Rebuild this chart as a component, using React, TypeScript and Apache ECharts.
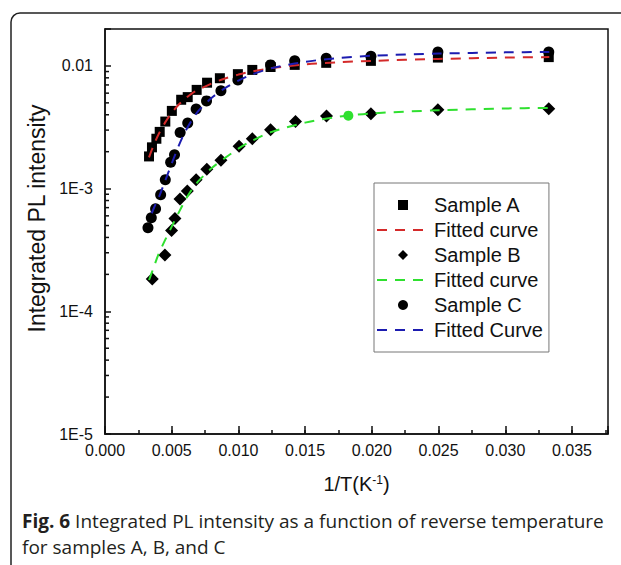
import React, { useEffect, useRef } from 'react';
import * as echarts from 'echarts';

// ---- data ----
const xA = [0.0033, 0.00352, 0.00385, 0.0041, 0.00452, 0.00501, 0.00571, 0.0062, 0.00687, 0.00765, 0.00861, 0.00996, 0.01104, 0.01241, 0.01422, 0.01658, 0.01993, 0.02495, 0.03326];
const yA = [1.83e-3, 2.17e-3, 2.55e-3, 2.9e-3, 3.52e-3, 4.3e-3, 5.3e-3, 5.57e-3, 6.38e-3, 7.3e-3, 7.94e-3, 8.57e-3, 9.28e-3, 9.8e-3, 1.02e-2, 1.06e-2, 1.1e-2, 1.17e-2, 1.18e-2];

const xB = [0.00354, 0.00449, 0.00499, 0.00524, 0.00562, 0.00617, 0.00683, 0.00763, 0.00869, 0.01005, 0.01104, 0.01241, 0.01428, 0.0166, 0.01993, 0.02495, 0.03326];
const yB = [1.83e-4, 2.88e-4, 4.56e-4, 5.7e-4, 8.22e-4, 9.57e-4, 1.18e-3, 1.44e-3, 1.7e-3, 2.21e-3, 2.55e-3, 3.02e-3, 3.52e-3, 3.9e-3, 4.07e-3, 4.39e-3, 4.47e-3];

const xC = [0.00322, 0.00347, 0.00379, 0.00417, 0.00452, 0.00492, 0.00521, 0.00563, 0.0062, 0.00683, 0.00761, 0.00869, 0.00996, 0.01241, 0.01422, 0.01658, 0.01993, 0.02495, 0.03326];
const yC = [4.8e-4, 5.78e-4, 6.84e-4, 8.93e-4, 1.18e-3, 1.64e-3, 1.89e-3, 2.87e-3, 3.42e-3, 4.45e-3, 5.19e-3, 6.27e-3, 7.69e-3, 1.02e-2, 1.104e-2, 1.156e-2, 1.2e-2, 1.3e-2, 1.3e-2];

const fitX = [0.0033, 0.0036, 0.004, 0.0045, 0.005, 0.0055, 0.006, 0.0065, 0.007, 0.008, 0.009, 0.010, 0.011, 0.0125, 0.015, 0.0175, 0.020, 0.025, 0.030, 0.0333];
const fitA = [1.8e-3, 2.2e-3, 2.75e-3, 3.45e-3, 4.15e-3, 4.8e-3, 5.4e-3, 5.95e-3, 6.4e-3, 7.2e-3, 7.9e-3, 8.5e-3, 9.0e-3, 9.6e-3, 1.03e-2, 1.07e-2, 1.1e-2, 1.14e-2, 1.17e-2, 1.18e-2];
const fitB = [1.8e-4, 2.2e-4, 2.9e-4, 3.8e-4, 4.9e-4, 6.3e-4, 8.0e-4, 9.8e-4, 1.15e-3, 1.47e-3, 1.78e-3, 2.12e-3, 2.45e-3, 2.9e-3, 3.45e-3, 3.85e-3, 4.1e-3, 4.35e-3, 4.5e-3, 4.55e-3];
const fitCX = [0.0035, 0.0038, 0.004, 0.0045, 0.005, 0.0055, 0.006, 0.0065, 0.007, 0.008, 0.009, 0.010, 0.011, 0.0125, 0.015, 0.0175, 0.020, 0.025, 0.030, 0.0333];
const fitC = [6.3e-4, 7.5e-4, 8.3e-4, 1.15e-3, 1.6e-3, 2.2e-3, 2.9e-3, 3.6e-3, 4.3e-3, 5.5e-3, 6.6e-3, 7.6e-3, 8.5e-3, 9.6e-3, 1.08e-2, 1.16e-2, 1.21e-2, 1.26e-2, 1.29e-2, 1.3e-2];

const markX = [0.01824];
const markY = [3.93e-3];

const yMinorTicks = [
  2e-5, 3e-5, 4e-5, 5e-5, 6e-5, 7e-5, 8e-5, 9e-5,
  2e-4, 3e-4, 4e-4, 5e-4, 6e-4, 7e-4, 8e-4, 9e-4,
  2e-3, 3e-3, 4e-3, 5e-3, 6e-3, 7e-3, 8e-3, 9e-3,
];

const legendNames = ['Sample A', 'Fitted curve', 'Sample B', 'Fitted curve ', 'Sample C', 'Fitted Curve'];
const captionBold = 'Fig. 6';
const captionLine1 = ' Integrated PL intensity as a function of reverse temperature';
const captionLine2 = 'for samples A, B, and C';

const zip = (xs: number[], ys: number[]) => xs.map((x, i) => [x, ys[i]]);

const FONT = 'Arial, Liberation Sans, sans-serif';
const CAP_FONT = 'Open Sans, sans-serif';
const INK = '#111';
const RED = '#d42a2a';
const GREEN = '#2fe02f';
const BLUE = '#1c1cb0';

export default function App() {
  const ref = useRef<HTMLDivElement>(null);
  useEffect(() => {
    if (!ref.current) return;
    const chart = echarts.init(ref.current, null, { renderer: 'svg' });
    const axisLineStyle = { color: INK, width: 1.5 };
    const dash = [10, 8];
    const hiddenSymbol = { opacity: 0 };
    const option: any = {
      animation: false,
      backgroundColor: '#fff',
      grid: { left: 105, top: 29, right: 13, bottom: 131, show: true, borderColor: INK, borderWidth: 1.5, backgroundColor: 'transparent' },
      xAxis: [
        {
          type: 'value', min: 0, max: 0.0377, interval: 0.005, position: 'bottom',
          name: '{n|1/T(K}{s|-1}{n|)}', nameLocation: 'middle', nameGap: 40,
          nameTextStyle: {
            rich: {
              n: { fontSize: 20, fontFamily: FONT, color: INK },
              s: { fontSize: 12, fontFamily: FONT, color: INK, verticalAlign: 'top' },
            },
          },
          axisLine: { show: true, lineStyle: axisLineStyle },
          axisTick: { inside: true, length: 8, lineStyle: axisLineStyle },
          axisLabel: {
            margin: 8, fontSize: 16, fontFamily: FONT, color: INK,
            formatter: (v: number) => (Math.abs(v / 0.005 - Math.round(v / 0.005)) > 1e-6 ? '' : v.toFixed(3)),
          },
          splitLine: { show: false },
        },
        {
          type: 'value', min: 0, max: 0.0377, interval: 0.0025, position: 'bottom',
          axisLine: { show: false },
          axisTick: { inside: true, length: 4, lineStyle: axisLineStyle },
          axisLabel: { show: false },
          splitLine: { show: false },
        },
      ],
      yAxis: {
        type: 'log', logBase: 10, min: 1e-5, max: 0.02,
        name: 'Integrated PL intensity', nameLocation: 'middle', nameGap: 48, nameRotate: 90,
        nameTextStyle: { fontSize: 23, fontFamily: FONT, color: INK, padding: [0, 0, 0, 26] },
        axisLine: { show: true, lineStyle: axisLineStyle },
        axisTick: { inside: true, length: 6, lineStyle: axisLineStyle },
        axisLabel: {
          margin: 12, fontSize: 16, fontFamily: FONT, color: INK,
          formatter: (v: number) => {
            const e = Math.log10(v);
            const r = Math.round(e);
            if (Math.abs(e - r) > 1e-6) return '';
            return r === -2 ? '0.01' : '1E' + r;
          },
        },
        splitLine: { show: false },
      },
      legend: {
        orient: 'vertical', left: 374, top: 183,
        padding: [12, 6, 12, 2], itemGap: 5, itemWidth: 52, itemHeight: 10,
        backgroundColor: '#fff', borderColor: '#777', borderWidth: 1,
        textStyle: { fontSize: 20, fontFamily: FONT, color: INK },
        formatter: (n: string) => n.trim(),
        data: [
          { name: legendNames[0], icon: 'path://M0,0L10,0L10,10L0,10Z' },
          { name: legendNames[1], itemStyle: hiddenSymbol },
          { name: legendNames[2], icon: 'path://M5,0L10,5L5,10L0,5Z' },
          { name: legendNames[3], itemStyle: hiddenSymbol },
          { name: legendNames[4], icon: 'circle' },
          { name: legendNames[5], itemStyle: hiddenSymbol },
        ],
      },
      graphic: [
        {
          type: 'rect', silent: true, z: -10,
          shape: { x: 11, y: 13, width: 700, height: 700, r: [9, 0, 0, 0] },
          style: { fill: 'none', stroke: '#222', lineWidth: 1.5 },
        },
        {
          type: 'text', left: 22, top: 508, silent: true,
          style: {
            text: '{b|' + captionBold + '}' + captionLine1 + '\n' + captionLine2,
            fontFamily: CAP_FONT, fontSize: 19, lineHeight: 26, fill: '#231f20',
            rich: { b: { fontWeight: 'bold', fontFamily: CAP_FONT, fontSize: 19, lineHeight: 26, fill: '#231f20' } },
          },
        },
      ],
      series: [
        {
          type: 'custom', silent: true, data: yMinorTicks.map((v) => [0, v]), clip: false, z: 5,
          renderItem: (_p: any, api: any) => {
            const p = api.coord([api.value(0), api.value(1)]);
            return { type: 'line', shape: { x1: p[0], y1: p[1], x2: p[0] + 4, y2: p[1] }, style: { stroke: INK, lineWidth: 1.5 } };
          },
        },
        { name: legendNames[0], type: 'scatter', symbol: 'rect', symbolSize: 10, itemStyle: { color: '#000', opacity: 1 }, data: zip(xA, yA) },
        { name: legendNames[2], type: 'scatter', symbol: 'diamond', symbolSize: 13, itemStyle: { color: '#000', opacity: 1 }, data: zip(xB, yB) },
        { name: legendNames[4], type: 'scatter', symbol: 'circle', symbolSize: 11, itemStyle: { color: '#000', opacity: 1 }, data: zip(xC, yC) },
        { name: legendNames[1], type: 'line', symbol: 'none', smooth: 0.3, lineStyle: { color: RED, width: 2, type: dash }, itemStyle: { color: RED }, data: zip(fitX, fitA) },
        { name: legendNames[3], type: 'line', symbol: 'none', smooth: 0.3, lineStyle: { color: GREEN, width: 2, type: dash }, itemStyle: { color: GREEN }, data: zip(fitX, fitB) },
        { name: legendNames[5], type: 'line', symbol: 'none', smooth: 0.3, lineStyle: { color: BLUE, width: 2, type: dash }, itemStyle: { color: BLUE }, data: zip(fitCX, fitC) },
        { name: 'mark', type: 'scatter', symbol: 'circle', symbolSize: 10, itemStyle: { color: GREEN, opacity: 1 }, data: zip(markX, markY) },
      ],
    };
    chart.setOption(option);
    return () => chart.dispose();
  }, []);
  return <div ref={ref} style={{ position: 'absolute', left: 0, top: 0, width: 621, height: 565 }} />;
}
